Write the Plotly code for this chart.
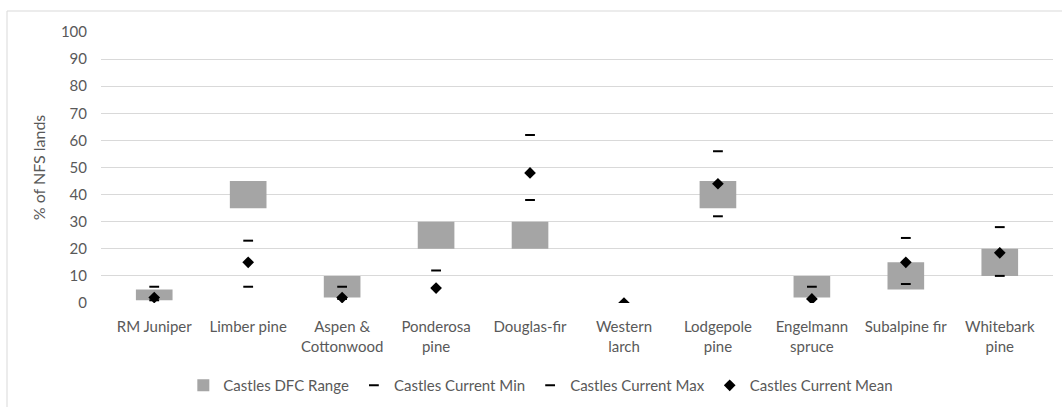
import plotly.graph_objects as go

categories = ["RM Juniper", "Limber pine", "Aspen &<br>Cottonwood", "Ponderosa<br>pine",
              "Douglas-fir", "Western<br>larch", "Lodgepole<br>pine", "Engelmann<br>spruce",
              "Subalpine fir", "Whitebark<br>pine"]
dfc_low = [1, 35, 2, 20, 20, 0, 35, 2, 5, 10]
dfc_high = [5, 45, 10, 30, 30, 0, 45, 10, 15, 20]
cur_min = [1, 6, 1.5, 5.5, 38, 0, 32, 1.5, 7, 10]
cur_max = [6, 23, 6, 12, 62, 0, 56, 6, 24, 28]
cur_mean = [2, 15, 2, 5.5, 48, 0, 44, 1.5, 15, 18.5]
y_ticks = [0, 10, 20, 30, 40, 50, 60, 70, 80, 90, 100]

FONT = "Lato, 'Open Sans', sans-serif"
GRAY = "#595959"

fig = go.Figure()
fig.add_trace(go.Bar(
    x=categories, y=[h - l for h, l in zip(dfc_high, dfc_low)], base=dfc_low,
    name="Castles DFC Range", marker=dict(color="#A5A5A5", line=dict(width=0)),
    width=0.39,
))
fig.add_trace(go.Scatter(
    x=categories, y=cur_min, mode="markers", name="Castles Current Min",
    marker=dict(symbol="line-ew", size=7, line=dict(color="black", width=2), color="black"),
))
fig.add_trace(go.Scatter(
    x=categories, y=cur_max, mode="markers", name="Castles Current Max",
    marker=dict(symbol="line-ew", size=7, line=dict(color="black", width=2), color="black"),
))
fig.add_trace(go.Scatter(
    x=categories, y=cur_mean, mode="markers", name="Castles Current Mean",
    marker=dict(symbol="diamond", size=9, color="black", line=dict(width=0)),
))

fig.update_layout(
    width=1062, height=407,
    margin=dict(l=101, r=9, t=32, b=104, autoexpand=False),
    paper_bgcolor="white", plot_bgcolor="white",
    font=dict(family=FONT, size=15, color=GRAY),
    showlegend=True,
    legend=dict(orientation="h", x=0.462, xanchor="center", y=-0.244, yanchor="top",
                font=dict(family=FONT, size=15, color=GRAY), traceorder="normal",
                itemwidth=30),
    xaxis=dict(showgrid=False, showline=False, ticks="", tickfont=dict(size=15, color=GRAY),
               ticklabelstandoff=13, automargin=False),
    yaxis=dict(range=[0, 100], tickvals=y_ticks, showgrid=True, gridcolor="#D9D9D9",
               gridwidth=1, zeroline=False, showline=False, ticks="",
               tickfont=dict(size=15, color=GRAY), ticklabelstandoff=13, automargin=False,
               title=dict(text="% of NFS lands", font=dict(size=16, color=GRAY), standoff=11)),
    shapes=[dict(type="rect", xref="paper", yref="paper",
                 x0=(7 - 101) / 952, x1=(1068 - 101) / 952,
                 y0=-(412 - 303) / 271, y1=(303 - 11) / 271,
                 line=dict(color="#D9D9D9", width=1), fillcolor="rgba(0,0,0,0)", layer="below")],
)

fig.write_html("out.html", config={"displayModeBar": False},
               post_script="document.body.style.margin='0';document.body.style.overflow='hidden';")
